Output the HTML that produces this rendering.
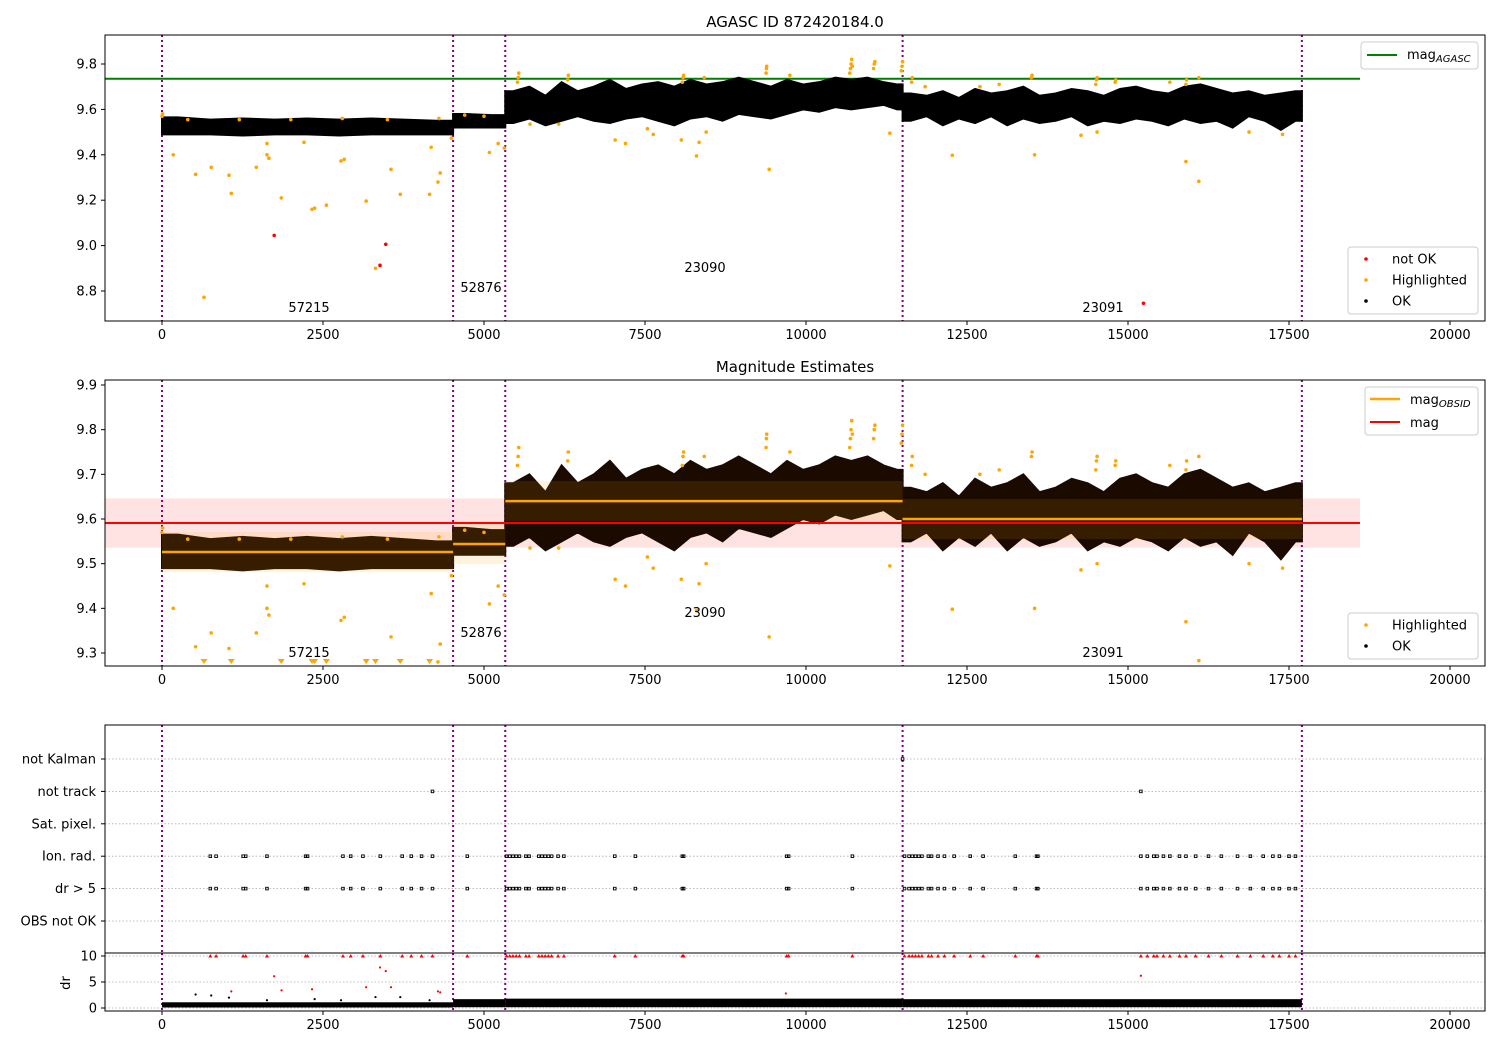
<!DOCTYPE html>
<html><head><meta charset="utf-8"><style>
body{margin:0;background:#fff}
svg{display:block;font-family:"DejaVu Sans","Liberation Sans",sans-serif}
</style></head><body>
<svg id="c" width="1500" height="1050" xmlns="http://www.w3.org/2000/svg">
<defs>
<clipPath id="cp1"><rect x="105" y="35" width="1380" height="286"/></clipPath>
<clipPath id="cp2"><rect x="105" y="380" width="1380" height="286"/></clipPath>
<clipPath id="cp3"><rect x="105" y="725" width="1380" height="228"/></clipPath>
<clipPath id="cp4"><rect x="105" y="953" width="1380" height="58"/></clipPath>
</defs>
<text x="795" y="27" font-size="15" text-anchor="middle">AGASC ID 872420184.0</text>
<text x="795" y="372" font-size="15" text-anchor="middle">Magnitude Estimates</text>
</svg>
<script>
// ---- data ----
const segStart=[0,4520,5330,11500];
const segEnd=[4520,5330,11500,17700];
const obsids=["57215","52876","23090","23091"];
const binT=[0,500,1000,1500,2000,2500,3000,3500,4000,
4520,4900,
5330,5580,5830,6080,6330,6580,6830,7080,7330,7580,7830,8080,8330,8580,8830,9080,9330,9580,9830,10080,10330,10580,10830,11080,11330,
11500,11750,12000,12250,12500,12750,13000,13250,13500,13750,14000,14250,14500,14750,15000,15250,15500,15750,16000,16250,16500,16750,17000,17250,17500];
const binHi=[9.565,9.555,9.56,9.555,9.56,9.555,9.56,9.555,9.55,
9.58,9.575,
9.68,9.70,9.66,9.72,9.68,9.70,9.73,9.69,9.71,9.72,9.70,9.73,9.71,9.72,9.74,9.72,9.70,9.73,9.71,9.72,9.74,9.73,9.74,9.72,9.71,
9.67,9.66,9.68,9.65,9.69,9.67,9.68,9.70,9.66,9.67,9.69,9.68,9.66,9.69,9.70,9.68,9.67,9.70,9.71,9.69,9.67,9.68,9.66,9.67,9.68];
const binLo=[9.49,9.49,9.485,9.49,9.49,9.485,9.49,9.49,9.49,
9.52,9.52,
9.54,9.56,9.53,9.55,9.57,9.55,9.54,9.56,9.57,9.55,9.53,9.56,9.57,9.55,9.58,9.57,9.56,9.58,9.60,9.59,9.61,9.60,9.61,9.62,9.60,
9.55,9.57,9.53,9.56,9.54,9.57,9.53,9.56,9.54,9.55,9.57,9.53,9.55,9.54,9.56,9.55,9.53,9.56,9.54,9.55,9.52,9.57,9.55,9.51,9.55];
const obsMag=[9.526,9.544,9.64,9.60];
const magAgasc=9.735;
const magMean=9.591, magErr=0.055;
const hlT=[175,522,764,652,1040,1076,1464,1630,1630,1660,1852,2205,2330,2370,2553,2780,2830,3170,3315,3556,3700,4155,4180,4285,4320,4494,5084,5220,5315,5715,6160,7037,7197,7537,7628,8064,8300,8340,8450,9428,
11302,12272,13550,14270,14520,15900,16100,16880,17400,
5520,5530,5540,6300,6310,8080,8090,8100,8420,9380,9385,9390,9750,10680,10690,10700,10710,10720,11050,11060,11070,11480,11490,11500,11640,11650,11850,12700,13000,13500,13510,14500,14510,14520,14800,14810,15650,15900,15910,16100,
0,10,400,1200,2000,2800,3500,4300,4700,5000];
const hlV=[9.40,9.314,9.345,8.772,9.31,9.23,9.345,9.45,9.40,9.385,9.21,9.455,9.16,9.165,9.178,9.373,9.38,9.196,8.90,9.336,9.226,9.226,9.433,9.28,9.32,9.473,9.41,9.45,9.43,9.535,9.535,9.465,9.45,9.515,9.49,9.465,9.395,9.455,9.50,9.336,
9.495,9.398,9.40,9.486,9.50,9.37,9.283,9.50,9.49,
9.72,9.74,9.76,9.73,9.75,9.72,9.74,9.75,9.74,9.76,9.78,9.79,9.75,9.76,9.78,9.80,9.82,9.79,9.78,9.80,9.81,9.77,9.79,9.81,9.72,9.74,9.70,9.70,9.71,9.74,9.75,9.71,9.73,9.74,9.72,9.73,9.72,9.71,9.73,9.74,
9.57,9.58,9.555,9.555,9.555,9.56,9.555,9.56,9.575,9.57];
const badT=[1742,3475,3385,15240];
const badV=[9.045,9.006,8.913,8.746];
const flagRows=["not Kalman","not track","Sat. pixel.","Ion. rad.","dr > 5","OBS not OK"];
const ionT=[750,840,1260,1300,1630,2230,2260,2810,2930,3120,3390,3730,3870,4030,4200,4740,5350,5400,5450,5500,5550,5650,5700,5850,5900,5950,6000,6050,6150,6240,7030,7350,8080,8100,9700,9730,10720,11530,11600,11650,11700,11750,11800,11900,11950,12050,12150,12300,12550,12750,13250,13580,13600,15200,15300,15400,15450,15550,15650,15800,15900,16050,16250,16450,16700,16900,17100,17250,17350,17500,17600];
const trackT=[4200,15200];
const kalmanT=[11500];
const drOutT=[1742,3385,3475,1076,1856,2330,3170,3556,4285,4320,9687,15200];
const drOutV=[6.1,7.8,7.1,3.2,3.4,3.6,4.0,4.0,3.2,3.0,2.8,6.2];
const drBlkT=[522,764,1040,1630,2370,2780,3315,3700,4155];
const drBlkV=[2.6,2.4,2.0,1.5,1.7,1.5,2.1,2.1,1.5];
const drLo=[0.1,0.15,0.15,0.15];
const drHi=[1.1,1.7,1.8,1.7];
const xTicks=[0,2500,5000,7500,10000,12500,15000,17500,20000];
const y1Ticks=[8.8,9.0,9.2,9.4,9.6,9.8];
const y2Ticks=[9.3,9.4,9.5,9.6,9.7,9.8,9.9];
const drTicks=[0,5,10];
// ---- scales ----
const X=t=>162+t*0.0644;
const Y1=v=>64+(9.8-v)*227;
const Y2=v=>385+(9.9-v)*446.67;
const YR=i=>759+i*32.4;
const YD=d=>1008-d*5.2;
const svg=document.getElementById('c');
const NS='http://www.w3.org/2000/svg';
function mk(tag,a,parent){const e=document.createElementNS(NS,tag);for(const k in a)e.setAttribute(k,a[k]);(parent||svg).appendChild(e);return e;}
function grp(clip,name){const g=mk('g',clip?{'clip-path':'url(#'+clip+')'}:{});return g;}
function txt(x,y,s,a,parent){const e=mk('text',Object.assign({x:x,y:y,'font-size':13},a||{}),parent);e.textContent=s;return e;}
function bandPath(Y,si){const s=segStart[si],e=segEnd[si];const idx=[];binT.forEach((t,i)=>{if(t>=s&&t<e)idx.push(i);});
 let up=[],dn=[];idx.forEach((i,k)=>{const t0=binT[i],t1=k+1<idx.length?binT[idx[k+1]]:e;const tc=(t0+t1)/2;up.push([X(tc),Y(binHi[i])]);dn.push([X(tc),Y(binLo[i])]);});
 up.unshift([X(s),Y(binHi[idx[0]])]);dn.unshift([X(s),Y(binLo[idx[0]])]);up.push([X(e),Y(binHi[idx[idx.length-1]])]);dn.push([X(e),Y(binLo[idx[idx.length-1]])]);
 return 'M'+up.map(p=>p.join(',')).join('L')+'L'+dn.reverse().map(p=>p.join(',')).join('L')+'Z';}
function vlines(g,y0,y1){segStart.concat([segEnd[3]]).forEach(t=>{const l=mk('line',{x1:X(t),x2:X(t),y1:y0,y2:y1,stroke:'purple','stroke-width':2,'stroke-dasharray':'2,3'},g);});}
function frame(x,y,w,h,name){const r=mk('rect',{x:x,y:y,width:w,height:h,fill:'none',stroke:'#000','stroke-width':1});}
function xaxis(yb){const g=grp(null,'x-axis');xTicks.forEach(t=>{mk('line',{x1:X(t),x2:X(t),y1:yb,y2:yb+4,stroke:'#000'},g);txt(X(t),yb+18,String(t),{'text-anchor':'middle'},g);});}
function yaxis(ticks,Y,fmt,name){const g=grp(null,name);ticks.forEach(v=>{mk('line',{x1:101,x2:105,y1:Y(v),y2:Y(v),stroke:'#000'},g);txt(97,Y(v)+4.5,fmt(v),{'text-anchor':'end'},g);});}
function dot(g,x,y,r,c,name){const e=mk('circle',{cx:x,cy:y,r:r,fill:c},g);}

// ---- panel 1 ----
{const g=grp('cp1','top-plot-area');
 vlines(g,35,321);
 const gl=mk('line',{x1:105,x2:1360,y1:Y1(magAgasc),y2:Y1(magAgasc),stroke:'green','stroke-width':2},g);
 for(let s=0;s<4;s++){const p=mk('path',{d:bandPath(Y1,s),fill:'#000',stroke:'#000','stroke-width':2},g);}
 hlT.forEach((t,i)=>dot(g,X(t),Y1(hlV[i]),1.8,'orange','highlighted-point'));
 badT.forEach((t,i)=>dot(g,X(t),Y1(badV[i]),1.8,'red','not-ok-point'));
 const lg=grp(null,'obsid-labels-top');txt(309,312,obsids[0],{'text-anchor':'middle'},lg);txt(481,292,obsids[1],{'text-anchor':'middle'},lg);txt(705,272,obsids[2],{'text-anchor':'middle'},lg);txt(1103,312,obsids[3],{'text-anchor':'middle'},lg);
}
frame(105,35,1380,286,'top-axes-frame');xaxis(321);yaxis(y1Ticks,Y1,v=>v.toFixed(1),'top-y-axis');
{const g=grp(null,'top-legend-lines');mk('rect',{x:1361,y:42,width:117,height:27,rx:3,fill:'#fff',stroke:'#ccc'},g);mk('line',{x1:1367,x2:1397,y1:55,y2:55,stroke:'green','stroke-width':2},g);
 const t=txt(1407,59,'mag',{},g);const ts=mk('tspan',{'font-size':10,'font-style':'italic',dy:3},t);ts.textContent='AGASC';}
{const g=grp(null,'top-legend-points');mk('rect',{x:1348,y:247,width:130,height:67,rx:3,fill:'#fff',stroke:'#ccc'},g);
 [['red','not OK',259],['orange','Highlighted',280],['#000','OK',301]].forEach(a=>{dot(g,1366,a[2],1.8,a[0],'legend-marker');txt(1392,a[2]+4.5,a[1],{},g);});}

// ---- panel 2 ----
{const g=grp('cp2','middle-plot-area');
 vlines(g,380,666);
 const pb=mk('rect',{x:105,y:Y2(magMean+magErr),width:1360-105,height:Y2(magMean-magErr)-Y2(magMean+magErr),fill:'red','fill-opacity':0.11},g);
 for(let s=0;s<4;s++){const p=mk('path',{d:bandPath(Y2,s),fill:'#1a0a00',stroke:'#1a0a00','stroke-width':2},g);}
 for(let s=0;s<4;s++){const ob=mk('rect',{x:X(segStart[s]),y:Y2(obsMag[s]+0.045),width:X(segEnd[s])-X(segStart[s]),height:Y2(obsMag[s]-0.045)-Y2(obsMag[s]+0.045),fill:'orange','fill-opacity':0.13},g);
  const ol=mk('line',{x1:X(segStart[s]),x2:X(segEnd[s]),y1:Y2(obsMag[s]),y2:Y2(obsMag[s]),stroke:'orange','stroke-width':2.5},g);}
 const rl=mk('line',{x1:105,x2:1360,y1:Y2(magMean),y2:Y2(magMean),stroke:'red','stroke-width':2},g);
 hlT.forEach((t,i)=>{if(hlV[i]<9.271){const x=X(t),y=663;const p=mk('path',{d:`M${x-3.5},${y-4}L${x+3.5},${y-4}L${x},${y+1}Z`,fill:'orange'},g);}else dot(g,X(t),Y2(hlV[i]),1.8,'orange','highlighted-point');});
 const lg=grp(null,'obsid-labels-middle');txt(309,657,obsids[0],{'text-anchor':'middle'},lg);txt(481,637,obsids[1],{'text-anchor':'middle'},lg);txt(705,617,obsids[2],{'text-anchor':'middle'},lg);txt(1103,657,obsids[3],{'text-anchor':'middle'},lg);
}
frame(105,380,1380,286,'middle-axes-frame');xaxis(666);yaxis(y2Ticks,Y2,v=>v.toFixed(1),'middle-y-axis');
{const g=grp(null,'middle-legend-lines');mk('rect',{x:1365,y:387,width:113,height:48,rx:3,fill:'#fff',stroke:'#ccc'},g);mk('line',{x1:1370,x2:1400,y1:399,y2:399,stroke:'orange','stroke-width':2.5},g);
 const t=txt(1410,404,'mag',{},g);const ts=mk('tspan',{'font-size':10,'font-style':'italic',dy:3},t);ts.textContent='OBSID';
 mk('line',{x1:1370,x2:1400,y1:422,y2:422,stroke:'red','stroke-width':2},g);txt(1410,427,'mag',{},g);}
{const g=grp(null,'middle-legend-points');mk('rect',{x:1348,y:613,width:130,height:46,rx:3,fill:'#fff',stroke:'#ccc'},g);
 [['orange','Highlighted',625],['#000','OK',646]].forEach(a=>{dot(g,1366,a[2],1.8,a[0],'legend-marker');txt(1392,a[2]+4.5,a[1],{},g);});}

// ---- panel 3 flags ----
{const g=grp('cp3','flags-plot-area');
 flagRows.forEach((r,i)=>{const l=mk('line',{x1:105,x2:1485,y1:YR(i),y2:YR(i),stroke:'#aaa','stroke-width':0.8,'stroke-dasharray':'1.5,2'},g);});
 vlines(g,725,953);
 function sq(t,i){const e=mk('rect',{x:X(t)-1.3,y:YR(i)-1.3,width:2.6,height:2.6,fill:'none',stroke:'#000','stroke-width':0.9},g);}
 kalmanT.forEach(t=>sq(t,0));trackT.forEach(t=>sq(t,1));ionT.forEach(t=>{sq(t,3);sq(t,4);});
}
frame(105,725,1380,228,'flags-axes-frame');
{const g=grp(null,'flags-y-axis');flagRows.forEach((r,i)=>{mk('line',{x1:101,x2:105,y1:YR(i),y2:YR(i),stroke:'#000'},g);txt(96,YR(i)+4.5,r,{'text-anchor':'end'},g);});}
// ---- panel 4 dr ----
{const g=grp('cp4','dr-plot-area');
 drTicks.forEach(d=>{mk('line',{x1:105,x2:1485,y1:YD(d),y2:YD(d),stroke:'#aaa','stroke-width':0.8,'stroke-dasharray':'1.5,2'},g);});
 vlines(g,953,1011);
 for(let s=0;s<4;s++){const r=mk('rect',{x:X(segStart[s]),y:YD(drHi[s]),width:X(segEnd[s])-X(segStart[s]),height:YD(drLo[s])-YD(drHi[s]),fill:'#000'},g);}
 function tri(x,y){const p=mk('path',{d:`M${x-2},${y+1.5}L${x+2},${y+1.5}L${x},${y-2}Z`,fill:'red'},g);}
 ionT.forEach(t=>tri(X(t),YD(10)));
 drOutT.forEach((t,i)=>dot(g,X(t),YD(drOutV[i]),1.1,'red','dr-outlier'));
 drBlkT.forEach((t,i)=>dot(g,X(t),YD(drBlkV[i]),1.1,'#000','dr-point'));
}
frame(105,953,1380,58,'dr-axes-frame');xaxis(1011);yaxis(drTicks,YD,v=>String(v),'dr-y-axis');
{const t=txt(70,983,'dr',{'text-anchor':'middle',transform:'rotate(-90 70 983)'});}
</script>
</body></html>
